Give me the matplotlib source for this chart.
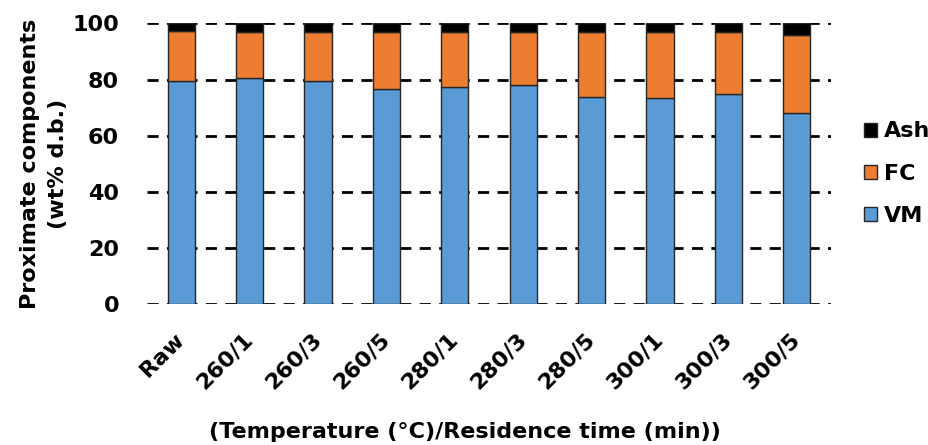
import numpy as np
import matplotlib.pyplot as plt
from matplotlib.transforms import ScaledTranslation

# data
labels = ["Raw", "260/1", "260/3", "260/5", "280/1", "280/3",
          "280/5", "300/1", "300/3", "300/5"]
vm = [79.6, 80.4, 79.6, 76.5, 77.3, 77.9, 73.7, 73.3, 74.8, 68.2]
fc = [17.8, 16.4, 17.2, 20.3, 19.5, 18.9, 23.1, 23.5, 22.0, 27.6]
ash = [2.6, 3.2, 3.2, 3.2, 3.2, 3.2, 3.2, 3.2, 3.2, 4.2]

plt.rcParams["font.family"] = ["DejaVu Sans"]
plt.rcParams["font.weight"] = "bold"

fig = plt.figure(figsize=(9.29, 4.45), dpi=100)
ax = fig.add_axes([147 / 929, 1 - 304.3 / 445, (831 - 147) / 929, (304.3 - 23.3) / 445])

x = np.arange(len(labels))
vm = np.array(vm)
fc = np.array(fc)
ash = np.array(ash)
edge = dict(edgecolor="#262626", linewidth=1.0, width=0.4, zorder=3)
b1 = ax.bar(x, vm, color="#5B9BD5", label="VM", **edge)
b2 = ax.bar(x, fc, bottom=vm, color="#ED7D31", label="FC", **edge)
b3 = ax.bar(x, ash, bottom=vm + fc, color="#000000", label="Ash", **edge)

ax.set_xlim(-0.5, len(labels) - 0.5)
ax.set_ylim(0, 100)
ax.set_yticks([0, 20, 40, 60, 80, 100])
ax.yaxis.grid(True, color="black", linestyle=(0, (4, 3)), linewidth=2, zorder=1)
ax.set_axisbelow(True)
for s in ax.spines.values():
    s.set_visible(False)
ax.tick_params(length=0, labelsize=16, pad=20)
ax.tick_params(axis="x", pad=18)
ax.set_xticks(x)
ax.set_xticklabels(labels, rotation=45, ha="right", rotation_mode="anchor",
                   fontsize=16, fontweight="bold")
shift = ScaledTranslation(-7 / 100, 0, fig.dpi_scale_trans)
for t in ax.get_xticklabels():
    t.set_transform(t.get_transform() + shift)
for t in ax.get_yticklabels():
    t.set_fontweight("bold")

ax.set_ylabel("Proximate components\n(wt% d.b.)", fontsize=16, fontweight="bold",
              labelpad=3, linespacing=1.55)
fig.text(0.5, 1 - 432 / 445, "(Temperature (°C)/Residence time (min))",
         ha="center", va="center", fontsize=16, fontweight="bold")

leg = ax.legend(handles=[b3, b2, b1], loc="center left",
                bbox_to_anchor=(1.025, 0.465), frameon=False,
                fontsize=16, handlelength=0.6, handleheight=0.6,
                handletextpad=0.3, labelspacing=1.0, borderpad=0.2)
for t in leg.get_texts():
    t.set_fontweight("bold")

fig.savefig("out.png", dpi=100)
